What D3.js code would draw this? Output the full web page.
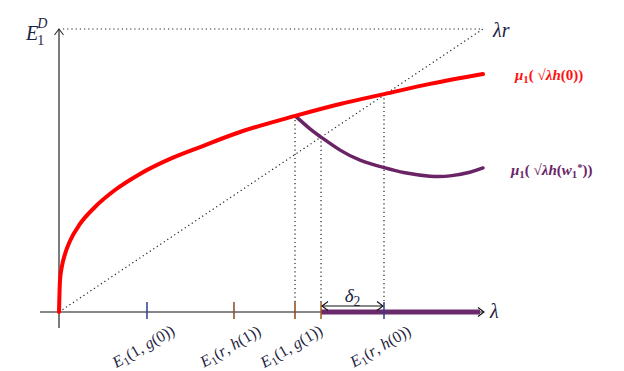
<!DOCTYPE html>
<html>
<head>
<meta charset="utf-8">
<script src="https://cdn.jsdelivr.net/npm/d3@7/dist/d3.min.js"></script>
<style>
html,body{margin:0;padding:0;background:#fff;}
svg{display:block;}
text{font-family:"Liberation Serif","Times New Roman","Tinos","DejaVu Serif","Noto Serif",Times,serif;}
</style>
</head>
<body>
<div id="chart"></div>
<script>
// ---- data (λ normalised to [0,1], value normalised to [0,1]) ----
const redLambda = [0, 0.0024, 0.0071, 0.0142, 0.0259, 0.0495, 0.0849, 0.132, 0.191, 0.262, 0.333, 0.427, 0.557, 0.663, 0.767, 0.875, 1.0];
const redValue  = [0, 0.113, 0.163, 0.205, 0.251, 0.311, 0.371, 0.431, 0.488, 0.541, 0.583, 0.636, 0.693, 0.735, 0.770, 0.806, 0.841];
const purpleLambda = [0.557, 0.592, 0.618, 0.663, 0.710, 0.767, 0.816, 0.875, 0.922, 0.969, 1.0];
const purpleValue  = [0.693, 0.647, 0.618, 0.572, 0.537, 0.510, 0.492, 0.480, 0.481, 0.494, 0.509];
const tickLambda = [0.2075, 0.4127, 0.5566, 0.618, 0.7665];
const tickColors = ["#2c3f8c", "#8a4a1c", "#8a4a1c", "#a8551a", "#2c3f8c"];
const tickLabels = ["E_1(1, g(0))", "E_1(r, h(1))", "E_1(1, g(1))", null, "E_1(r, h(0))"];
const dropLines = [ // [lambda, top value]
  [0.5566, 0.693], [0.618, 0.618], [0.7665, 0.770]
];
const intervalStart = 0.618, intervalEnd = 0.993;
const redLabel = "μ_1( √λh(0))";
const purpleLabel = "μ_1( √λh(w_1^*))";

const W = 624, H = 371;
const x = d3.scaleLinear().domain([0, 1]).range([59, 483]);
const y = d3.scaleLinear().domain([0, 1]).range([312, 29]);

const svg = d3.select("#chart").append("svg").attr("width", W).attr("height", H);
const defs = svg.append("defs");
function chevron(id, color) {
  defs.append("marker").attr("id", id).attr("viewBox", "-8 -6 10 12")
    .attr("refX", 0).attr("refY", 0).attr("markerWidth", 10).attr("markerHeight", 12)
    .attr("markerUnits", "userSpaceOnUse").attr("orient", "auto-start-reverse")
    .append("path").attr("d", "M-6,-4.5 L0,0 L-6,4.5").attr("fill", "none")
    .attr("stroke", color).attr("stroke-width", 1.1);
}
chevron("arr", "#111");
chevron("arrG", "#333");

// rich text helper: letters italic, _x subscript, ^x superscript
function rich(sel, str, size) {
  let i = 0;
  while (i < str.length) {
    const c = str[i];
    if ((c === "_" || c === "^") && i + 1 < str.length) {
      const ch = str[i + 1];
      const t = sel.append("tspan").text(ch)
        .style("font-size", (size * 0.72) + "px")
        .attr("baseline-shift", c === "_" ? "-25%" : "40%");
      if (/[A-Za-z]/.test(ch)) t.style("font-style", "italic");
      i += 2;
      continue;
    }
    const t = sel.append("tspan").text(c);
    if (/[A-Za-z\u03b1-\u03c9]/.test(c)) t.style("font-style", "italic");
    i++;
  }
}

const dotted = sel => sel.attr("stroke", "#222").attr("stroke-width", 1.2).attr("stroke-dasharray", "1.2,3");

// top dotted line and diagonal λr
svg.append("line").attr("x1", x(0) + 4).attr("y1", y(1)).attr("x2", x(1)).attr("y2", y(1)).call(dotted);
svg.append("line").attr("x1", x(0)).attr("y1", y(0)).attr("x2", x(1)).attr("y2", y(1)).call(dotted);

// vertical drop lines
svg.selectAll(".drop").data(dropLines).join("line")
  .attr("x1", d => x(d[0])).attr("x2", d => x(d[0]))
  .attr("y1", d => y(d[1])).attr("y2", y(0) - 8).call(dotted);

// axes
svg.append("line").attr("x1", x(0)).attr("y1", y(0) + 16).attr("x2", x(0)).attr("y2", y(1))
  .attr("stroke", "#444").attr("stroke-width", 1.4).attr("marker-end", "url(#arrG)");
svg.append("line").attr("x1", 40).attr("y1", y(0)).attr("x2", x(1) + 1).attr("y2", y(0))
  .attr("stroke", "#111").attr("stroke-width", 1.2).attr("marker-end", "url(#arr)");

// interval bar
svg.append("line").attr("x1", x(intervalStart)).attr("x2", x(intervalEnd))
  .attr("y1", y(0)).attr("y2", y(0))
  .attr("stroke", "#6b2a6b").attr("stroke-width", 5);

// ticks
svg.selectAll(".tick").data(tickLambda).join("line")
  .attr("x1", d => x(d)).attr("x2", d => x(d))
  .attr("y1", y(0) - 10).attr("y2", y(0) + 7)
  .attr("stroke", (d, i) => tickColors[i]).attr("stroke-width", 1.5);

// tick labels
tickLambda.forEach((d, i) => {
  if (!tickLabels[i]) return;
  const t = svg.append("text")
    .attr("transform", `translate(${x(d) - 1},${351}) rotate(-30)`)
    .attr("text-anchor", "middle").style("font-size", "16px")
    .attr("fill", "#1c2340");
  rich(t, tickLabels[i], 16);
});

// δ2 arrow
svg.append("line").attr("x1", x(0.618) + 1).attr("x2", x(0.7665) - 1)
  .attr("y1", y(0) - 6).attr("y2", y(0) - 6)
  .attr("stroke", "#111").attr("stroke-width", 1)
  .attr("marker-start", "url(#arr)").attr("marker-end", "url(#arr)");
const dl = svg.append("text").attr("x", x((0.618 + 0.7665) / 2)).attr("y", 302)
  .attr("text-anchor", "middle").style("font-size", "19px").attr("fill", "#1c2340");
rich(dl, "δ_2", 19);

// curves
const redPts = redLambda.map((l, i) => [l, redValue[i]]);
const purplePts = purpleLambda.map((l, i) => [l, purpleValue[i]]);
const line = d3.line().x(d => x(d[0])).y(d => y(d[1])).curve(d3.curveMonotoneX);
const line2 = d3.line().x(d => x(d[0])).y(d => y(d[1])).curve(d3.curveNatural);
svg.append("path").attr("d", line2(purplePts)).attr("fill", "none")
  .attr("stroke", "#6a2466").attr("stroke-width", 3.5).attr("stroke-linecap", "round");
svg.append("path").attr("d", line(redPts)).attr("fill", "none")
  .attr("stroke", "#ff0000").attr("stroke-width", 4).attr("stroke-linecap", "round");

// axis labels
const ey = svg.append("text").attr("x", 26).attr("y", 40).style("font-size", "20px").attr("fill", "#1c2340");
ey.append("tspan").text("E").style("font-style", "italic");
ey.append("tspan").text("1").style("font-size", "14px").attr("dx", -1).attr("dy", 5);
ey.append("tspan").text("D").style("font-size", "14px").style("font-style", "italic").attr("dx", -7).attr("dy", -17);

svg.append("text").attr("x", 493).attr("y", 37).style("font-size", "20px")
  .attr("fill", "#1c2340").style("font-style", "italic").text("λr");
svg.append("text").attr("x", 490).attr("y", 318).style("font-size", "20px")
  .attr("fill", "#1c2340").style("font-style", "italic").text("λ");

// curve labels
const rl = svg.append("text").attr("x", 515).attr("y", 80).style("font-size", "15px")
  .style("font-weight", "bold").attr("fill", "#ff1010");
rich(rl, redLabel, 15);
const pl = svg.append("text").attr("x", 511).attr("y", 175).style("font-size", "15px")
  .style("font-weight", "bold").attr("fill", "#6a2466");
rich(pl, purpleLabel, 15);
</script>
</body>
</html>
